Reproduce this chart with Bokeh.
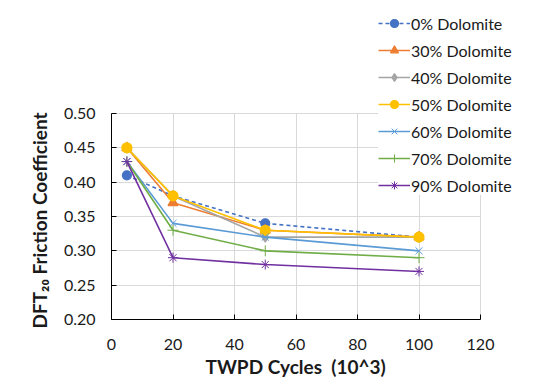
from bokeh.plotting import figure
from bokeh.models import FixedTicker, PrintfTickFormatter, Legend, LegendItem, Range1d, Title
from bokeh.embed import file_html
from bokeh.resources import INLINE

cycles = [5, 20, 50, 100]
d0 = [0.41, 0.38, 0.34, 0.32]
d30 = [0.45, 0.37, 0.33, 0.32]
d40 = [0.45, 0.38, 0.32, 0.32]
d50 = [0.45, 0.38, 0.33, 0.32]
d60 = [0.43, 0.34, 0.32, 0.30]
d70 = [0.43, 0.33, 0.30, 0.29]
d90 = [0.43, 0.29, 0.28, 0.27]
labels = ["0% Dolomite", "30% Dolomite", "40% Dolomite", "50% Dolomite",
          "60% Dolomite", "70% Dolomite", "90% Dolomite"]
x_ticks = [0, 20, 40, 60, 80, 100, 120]
y_ticks = [0.20, 0.25, 0.30, 0.35, 0.40, 0.45, 0.50]
x_title = "TWPD Cycles\u00a0 (10^3)"
y_title = "DFT\u2082\u2080 Friction Coefficient"

# frame spans to the page's top and right so the legend can overlap freely;
# axes and grids are bounded to the chart's own 0-120 / 0.20-0.50 box
x_per_px = 120 / 369.0
y_per_px = 0.30 / 206.0
p = figure(width=534, height=387, output_backend="svg", toolbar_location=None,
           x_range=Range1d(0, 120 + 54 * x_per_px),
           y_range=Range1d(0.20, 0.50 + 113 * y_per_px),
           min_border_left=111, min_border_right=0, min_border_top=0, min_border_bottom=68)
p.outline_line_color = None
p.background_fill_color = "white"
p.border_fill_color = "white"

styles = [
    (d0, "#4472C4", "circle", 9, "dashed", 1.2),
    (d30, "#ED7D31", "triangle", 10, "solid", 1.2),
    (d40, "#A5A5A5", "diamond", 10, "solid", 1.2),
    (d50, "#FFC000", "circle", 10, "solid", 1.2),
    (d60, "#5B9BD5", "x", 10, "solid", 1.0),
    (d70, "#70AD47", "cross", 11, "solid", 1.0),
    (d90, "#7030A0", "asterisk", 10, "solid", 1.0),
]
items = []
for (ys, col, mk, sz, dash, mw), lab in zip(styles, labels):
    r1 = p.line(cycles, ys, line_color=col, line_width=1.6,
                line_dash="4 3" if dash == "dashed" else "solid")
    r2 = p.scatter(cycles, ys, marker=mk, size=sz, line_color=col, fill_color=col, line_width=mw)
    items.append(LegendItem(label=lab, renderers=[r1, r2]))

legend = Legend(items=items, location=(267, 124), orientation="vertical")
legend.label_text_font = "Lato"
legend.label_text_font_size = "16px"
legend.label_text_color = "#1a1a1a"
legend.glyph_width = 32
legend.glyph_height = 20
legend.label_height = 20
legend.spacing = 7
legend.padding = 10
legend.margin = 0
legend.label_standoff = 1
legend.border_line_color = None
legend.background_fill_color = "white"
legend.background_fill_alpha = 1.0
p.add_layout(legend, "center")

for ax in (p.xaxis, p.yaxis):
    ax.axis_line_color = "black"
    ax.major_tick_line_color = "black"
    ax.major_tick_in = 5
    ax.major_tick_out = 0
    ax.minor_tick_line_color = None
    ax.major_label_text_font = "Lato"
    ax.major_label_text_font_size = "16px"
    ax.major_label_text_color = "#1a1a1a"

p.xaxis.bounds = (0, 120)
p.yaxis.bounds = (0.20, 0.50)
p.xaxis.ticker = FixedTicker(ticks=x_ticks)
p.yaxis.ticker = FixedTicker(ticks=y_ticks)
p.yaxis.formatter = PrintfTickFormatter(format="%.2f")
p.xaxis.major_label_standoff = 19
p.yaxis.major_label_standoff = 16

# axis titles placed as titles so they sit under / beside the 0-120 / 0.20-0.50 box
xt = Title(text=x_title, align="left", offset=94, text_font="Lato",
           text_font_style="bold", text_font_size="19px", text_color="#1a1a1a", standoff=1)
p.add_layout(xt, "below")
yt = Title(text=y_title, align="left", offset=-9, text_font="Lato",
           text_font_style="bold", text_font_size="19px", text_color="#1a1a1a", standoff=20)
p.add_layout(yt, "left")

p.xgrid.ticker = FixedTicker(ticks=x_ticks)
p.ygrid.ticker = FixedTicker(ticks=y_ticks)
p.xgrid.cross_bounds = (0.20, 0.50)
p.ygrid.cross_bounds = (0, 120)
p.grid.grid_line_color = "#d9d9d9"
p.grid.grid_line_width = 1

open("out.html", "w").write(file_html(p, INLINE))
